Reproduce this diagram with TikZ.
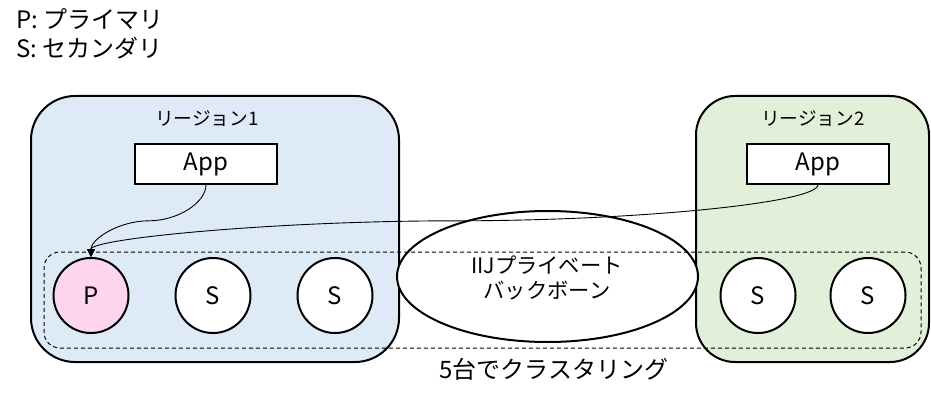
\documentclass[tikz,border=0pt]{standalone}
\usepackage{fontspec}
\setmainfont{Noto Sans CJK JP}
\usetikzlibrary{arrows.meta,shapes.geometric,calc}
\definecolor{regA}{HTML}{DEEBF7}
\definecolor{regB}{HTML}{E2F0D9}
\definecolor{prim}{HTML}{FDD5EE}
\tikzset{
  region/.style={draw=black, line width=2pt, inner sep=0pt},
  appbox/.style={draw=black, fill=white, line width=1.3pt, minimum width=142pt, minimum height=40pt, inner sep=0pt, font=\fontsize{24}{28}\selectfont},
  dbnode/.style={circle, draw=black, fill=white, line width=2pt, minimum size=75pt, inner sep=0pt, font=\fontsize{24}{28}\selectfont},
  txt/.style={inner sep=0pt, anchor=base},
  conn/.style={line width=0.9pt, -{Triangle[length=8pt,width=8pt]}},
}
\begin{document}
\begin{tikzpicture}[x=1pt,y=-1pt]
\useasboundingbox (0,0) rectangle (931,401);
% regions
\node[region, fill=regA, rounded corners=44pt, minimum width=368pt, minimum height=266pt] (r1) at (215,229) {};
\node[region, fill=regB, rounded corners=39pt, minimum width=233pt, minimum height=266pt] (r2) at (812.5,229) {};
% backbone
\node[ellipse, draw=black, fill=white, line width=2pt, minimum width=301pt, minimum height=131pt, inner sep=0pt] (bb) at (547.5,276.5) {};
% cluster frame
\node[draw=black, dash pattern=on 4pt off 3pt, line width=1pt, rounded corners=16pt, minimum width=877pt, minimum height=96pt, inner sep=0pt] (cl) at (482.5,300) {};
% databases
\node[dbnode, fill=prim] (p1) at (91,295.5) {P};
\node[dbnode] (s1) at (213,295.5) {S};
\node[dbnode] (s2) at (335,295.5) {S};
\node[dbnode] (s3) at (758,295.5) {S};
\node[dbnode] (s4) at (868,295.5) {S};
% apps
\node[appbox] (a1) at (206,164) {App};
\node[appbox] (a2) at (818,164) {App};
% labels
\node[txt, anchor=base west, font=\fontsize{24}{28}\selectfont] (lg1) at (16,28.3) {P: プライマリ};
\node[txt, anchor=base west, font=\fontsize{24}{28}\selectfont] (lg2) at (16,57.3) {S: セカンダリ};
\node[txt, font=\fontsize{18.7}{22}\selectfont] (l1) at (207,125.5) {リージョン1};
\node[txt, font=\fontsize{18.7}{22}\selectfont] (l2) at (813,125.5) {リージョン2};
\node[txt, font=\fontsize{21.3}{25}\selectfont] (bb1) at (547,273.5) {IIJプライベート};
\node[txt, font=\fontsize{21.3}{25}\selectfont] (bb2) at (547,298) {バックボーン};
\node[txt, font=\fontsize{24}{28}\selectfont] (cll) at (554,378) {5台でクラスタリング};
% connectors
\coordinate (m1) at ($(a1.south)!0.5!(p1.north)$);
\coordinate (m2) at ($(a2.south)!0.5!(p1.north)$);
\draw[conn] (a1.south) .. controls +(0,18.25) and +(29,0) .. (m1) .. controls +(-29,0) and +(0,-18.25) .. (p1.north);
\draw[conn] (a2.south) .. controls +(0,18.25) and +(181.75,0) .. (m2) .. controls +(-181.75,0) and +(0,-18.25) .. (p1.north);
\end{tikzpicture}
\end{document}
